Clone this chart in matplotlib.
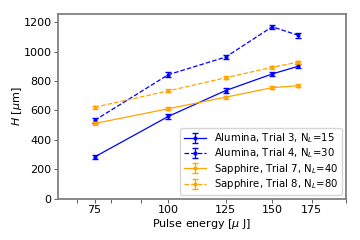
import matplotlib
matplotlib.use('Agg')
import matplotlib.pyplot as plt
from matplotlib.ticker import NullFormatter
import numpy as np

energy = [75, 100, 125, 150, 166]

h_al3 = [285, 560, 735, 848, 900]
h_al4 = [533, 843, 962, 1168, 1110]
h_sa7 = [512, 612, 690, 755, 768]
h_sa8 = [622, 733, 822, 893, 928]

err_al3 = [15, 18, 15, 15, 15]
err_al4 = [15, 15, 15, 15, 15]
err_sa7 = [10, 10, 10, 10, 10]
err_sa8 = [10, 10, 10, 10, 10]

labels = ['Alumina, Trial 3, N$_L$=15', 'Alumina, Trial 4, N$_L$=30',
          'Sapphire, Trial 7, N$_L$=40', 'Sapphire, Trial 8, N$_L$=80']

plt.rcParams['font.size'] = 8

fig = plt.figure(figsize=(3.6, 2.4), dpi=100)
ax = fig.add_axes([0.161, 0.171, 0.8, 0.771])

kw = dict(marker='.', markersize=4, capsize=2.5, linewidth=0.9, elinewidth=0.9)
ax.errorbar(energy, h_al3, yerr=err_al3, color='blue', linestyle='-', label=labels[0], **kw)
ax.errorbar(energy, h_al4, yerr=err_al4, color='blue', linestyle='--', label=labels[1], **kw)
ax.errorbar(energy, h_sa7, yerr=err_sa7, color='orange', linestyle='-', label=labels[2], **kw)
ax.errorbar(energy, h_sa8, yerr=err_sa8, color='orange', linestyle='--', label=labels[3], **kw)

ax.set_xscale('log')
ax.set_xlim(65, 200)
ax.set_xticks([75, 100, 125, 150, 175])
ax.set_xticklabels(['75', '100', '125', '150', '175'])
ax.xaxis.set_minor_formatter(NullFormatter())
ax.set_ylim(0, 1255)
ax.set_yticks([0, 200, 400, 600, 800, 1000, 1200])

for s in ax.spines.values():
    s.set_color('#808080')
    s.set_linewidth(1.3)
ax.tick_params(which='both', color='#444444', length=3, width=0.6, pad=1.5)

ax.set_xlabel('Pulse energy [$\\mu$ J]', labelpad=1)
ax.set_ylabel('$H$ [$\\mu$m]', labelpad=0)
ax.legend(loc='lower right', fontsize=7.3, handlelength=2.2, borderpad=0.35,
          labelspacing=0.15, borderaxespad=0.4)

fig.savefig('out.png', dpi=100)
